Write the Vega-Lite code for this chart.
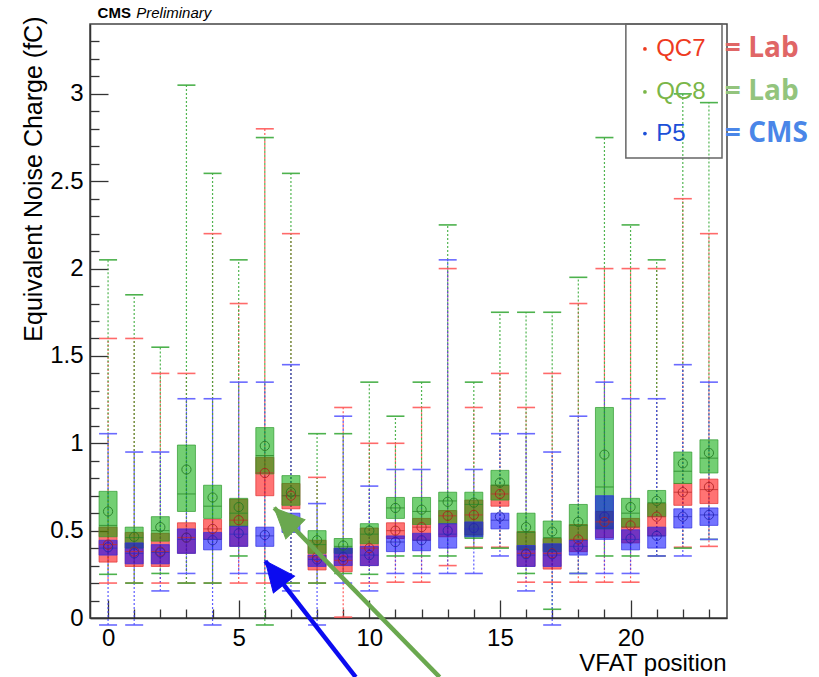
{
  "$schema": "https://vega.github.io/schema/vega-lite/v6.json",
  "width": 637,
  "height": 594,
  "autosize": {"type": "none"},
  "padding": {"left": 90, "top": 24, "right": 92, "bottom": 59},
  "background": "white",
  "config": {
    "view": {"stroke": "#444", "strokeWidth": 1.5},
    "font": "Liberation Sans"
  },
  "datasets": {
    "boxes": [
      {"pos":0,"ser":"QC7","lo":0.20,"q1":0.32,"med":0.42,"q3":0.52,"hi":1.60,"mean":0.42},
      {"pos":1,"ser":"QC7","lo":0.20,"q1":0.295,"med":0.38,"q3":0.49,"hi":1.60,"mean":0.38},
      {"pos":2,"ser":"QC7","lo":0.20,"q1":0.295,"med":0.38,"q3":0.485,"hi":1.40,"mean":0.38},
      {"pos":3,"ser":"QC7","lo":0.20,"q1":0.37,"med":0.46,"q3":0.545,"hi":1.40,"mean":0.46},
      {"pos":4,"ser":"QC7","lo":0.20,"q1":0.45,"med":0.51,"q3":0.565,"hi":2.20,"mean":0.51},
      {"pos":5,"ser":"QC7","lo":0.20,"q1":0.41,"med":0.56,"q3":0.68,"hi":1.80,"mean":0.56},
      {"pos":6,"ser":"QC7","lo":0.20,"q1":0.70,"med":0.83,"q3":0.92,"hi":2.80,"mean":0.83},
      {"pos":7,"ser":"QC7","lo":0.20,"q1":0.625,"med":0.70,"q3":0.77,"hi":2.20,"mean":0.70},
      {"pos":8,"ser":"QC7","lo":0.20,"q1":0.275,"med":0.35,"q3":0.445,"hi":0.805,"mean":0.35},
      {"pos":9,"ser":"QC7","lo":0.005,"q1":0.265,"med":0.33,"q3":0.40,"hi":1.205,"mean":0.33},
      {"pos":10,"ser":"QC7","lo":0.20,"q1":0.30,"med":0.40,"q3":0.515,"hi":1.00,"mean":0.40},
      {"pos":11,"ser":"QC7","lo":0.205,"q1":0.455,"med":0.50,"q3":0.545,"hi":1.00,"mean":0.50},
      {"pos":12,"ser":"QC7","lo":0.205,"q1":0.445,"med":0.52,"q3":0.57,"hi":1.205,"mean":0.52},
      {"pos":13,"ser":"QC7","lo":0.30,"q1":0.465,"med":0.585,"q3":0.615,"hi":2.00,"mean":0.585},
      {"pos":14,"ser":"QC7","lo":0.405,"q1":0.475,"med":0.59,"q3":0.675,"hi":1.205,"mean":0.59},
      {"pos":15,"ser":"QC7","lo":0.405,"q1":0.64,"med":0.71,"q3":0.76,"hi":1.40,"mean":0.71},
      {"pos":16,"ser":"QC7","lo":0.205,"q1":0.295,"med":0.37,"q3":0.495,"hi":1.205,"mean":0.37},
      {"pos":17,"ser":"QC7","lo":0.205,"q1":0.28,"med":0.37,"q3":0.455,"hi":1.40,"mean":0.37},
      {"pos":18,"ser":"QC7","lo":0.205,"q1":0.38,"med":0.45,"q3":0.535,"hi":1.80,"mean":0.45},
      {"pos":19,"ser":"QC7","lo":0.205,"q1":0.46,"med":0.55,"q3":0.61,"hi":2.00,"mean":0.55},
      {"pos":20,"ser":"QC7","lo":0.205,"q1":0.43,"med":0.52,"q3":0.57,"hi":2.00,"mean":0.53},
      {"pos":21,"ser":"QC7","lo":0.355,"q1":0.47,"med":0.58,"q3":0.655,"hi":2.00,"mean":0.58},
      {"pos":22,"ser":"QC7","lo":0.405,"q1":0.645,"med":0.72,"q3":0.77,"hi":2.40,"mean":0.72},
      {"pos":23,"ser":"QC7","lo":0.41,"q1":0.655,"med":0.735,"q3":0.795,"hi":2.20,"mean":0.75},
      {"pos":0,"ser":"QC8","lo":0.25,"q1":0.465,"med":0.53,"q3":0.725,"hi":2.05,"mean":0.61},
      {"pos":1,"ser":"QC8","lo":0.20,"q1":0.40,"med":0.46,"q3":0.52,"hi":1.85,"mean":0.465},
      {"pos":2,"ser":"QC8","lo":0.255,"q1":0.44,"med":0.50,"q3":0.58,"hi":1.55,"mean":0.52},
      {"pos":3,"ser":"QC8","lo":0.20,"q1":0.61,"med":0.71,"q3":0.99,"hi":3.05,"mean":0.85},
      {"pos":4,"ser":"QC8","lo":0.20,"q1":0.57,"med":0.64,"q3":0.76,"hi":2.545,"mean":0.69},
      {"pos":5,"ser":"QC8","lo":0.355,"q1":0.525,"med":0.60,"q3":0.685,"hi":2.05,"mean":0.635},
      {"pos":6,"ser":"QC8","lo":-0.04,"q1":0.825,"med":0.93,"q3":1.09,"hi":2.75,"mean":0.985},
      {"pos":7,"ser":"QC8","lo":0.20,"q1":0.645,"med":0.70,"q3":0.815,"hi":2.545,"mean":0.72},
      {"pos":8,"ser":"QC8","lo":0.20,"q1":0.37,"med":0.42,"q3":0.50,"hi":1.055,"mean":0.445},
      {"pos":9,"ser":"QC8","lo":0.255,"q1":0.37,"med":0.41,"q3":0.455,"hi":1.055,"mean":0.415},
      {"pos":10,"ser":"QC8","lo":0.25,"q1":0.425,"med":0.48,"q3":0.54,"hi":1.35,"mean":0.50},
      {"pos":11,"ser":"QC8","lo":0.355,"q1":0.57,"med":0.63,"q3":0.69,"hi":1.155,"mean":0.63},
      {"pos":12,"ser":"QC8","lo":0.355,"q1":0.535,"med":0.61,"q3":0.69,"hi":1.35,"mean":0.62},
      {"pos":13,"ser":"QC8","lo":0.355,"q1":0.54,"med":0.67,"q3":0.72,"hi":2.25,"mean":0.665},
      {"pos":14,"ser":"QC8","lo":0.40,"q1":0.455,"med":0.65,"q3":0.72,"hi":1.35,"mean":0.66},
      {"pos":15,"ser":"QC8","lo":0.40,"q1":0.675,"med":0.76,"q3":0.845,"hi":1.75,"mean":0.775},
      {"pos":16,"ser":"QC8","lo":0.255,"q1":0.39,"med":0.49,"q3":0.60,"hi":1.75,"mean":0.52},
      {"pos":17,"ser":"QC8","lo":0.05,"q1":0.38,"med":0.46,"q3":0.555,"hi":1.75,"mean":0.495},
      {"pos":18,"ser":"QC8","lo":0.255,"q1":0.445,"med":0.53,"q3":0.65,"hi":1.95,"mean":0.55},
      {"pos":19,"ser":"QC8","lo":0.355,"q1":0.51,"med":0.75,"q3":1.205,"hi":2.75,"mean":0.935},
      {"pos":20,"ser":"QC8","lo":0.355,"q1":0.52,"med":0.60,"q3":0.685,"hi":2.25,"mean":0.635},
      {"pos":21,"ser":"QC8","lo":0.355,"q1":0.58,"med":0.66,"q3":0.73,"hi":2.05,"mean":0.67},
      {"pos":22,"ser":"QC8","lo":0.40,"q1":0.77,"med":0.84,"q3":0.95,"hi":3.0,"mean":0.885},
      {"pos":23,"ser":"QC8","lo":0.45,"q1":0.83,"med":0.915,"q3":1.02,"hi":2.95,"mean":0.945},
      {"pos":0,"ser":"P5","lo":-0.04,"q1":0.36,"med":0.40,"q3":0.445,"hi":1.055,"mean":0.405},
      {"pos":1,"ser":"P5","lo":-0.04,"q1":0.31,"med":0.37,"q3":0.43,"hi":0.95,"mean":0.37},
      {"pos":2,"ser":"P5","lo":0.155,"q1":0.31,"med":0.375,"q3":0.42,"hi":0.95,"mean":0.375},
      {"pos":3,"ser":"P5","lo":0.255,"q1":0.37,"med":0.45,"q3":0.51,"hi":1.255,"mean":0.46},
      {"pos":4,"ser":"P5","lo":-0.04,"q1":0.39,"med":0.45,"q3":0.49,"hi":1.255,"mean":0.445},
      {"pos":5,"ser":"P5","lo":0.255,"q1":0.41,"med":0.48,"q3":0.525,"hi":1.35,"mean":0.485},
      {"pos":6,"ser":"P5","lo":0.255,"q1":0.41,"med":0.47,"q3":0.52,"hi":1.35,"mean":0.475},
      {"pos":7,"ser":"P5","lo":0.155,"q1":0.49,"med":0.55,"q3":0.60,"hi":1.45,"mean":0.55},
      {"pos":8,"ser":"P5","lo":-0.04,"q1":0.295,"med":0.335,"q3":0.36,"hi":0.655,"mean":0.335},
      {"pos":9,"ser":"P5","lo":0.20,"q1":0.30,"med":0.35,"q3":0.40,"hi":1.155,"mean":0.35},
      {"pos":10,"ser":"P5","lo":0.155,"q1":0.30,"med":0.36,"q3":0.41,"hi":0.755,"mean":0.36},
      {"pos":11,"ser":"P5","lo":0.255,"q1":0.38,"med":0.435,"q3":0.47,"hi":0.85,"mean":0.435},
      {"pos":12,"ser":"P5","lo":0.255,"q1":0.385,"med":0.445,"q3":0.485,"hi":0.85,"mean":0.445},
      {"pos":13,"ser":"P5","lo":0.255,"q1":0.40,"med":0.48,"q3":0.54,"hi":2.05,"mean":0.50},
      {"pos":14,"ser":"P5","lo":0.255,"q1":0.465,"med":0.51,"q3":0.55,"hi":0.85,"mean":0.515},
      {"pos":15,"ser":"P5","lo":0.355,"q1":0.51,"med":0.56,"q3":0.60,"hi":1.055,"mean":0.58},
      {"pos":16,"ser":"P5","lo":0.155,"q1":0.295,"med":0.36,"q3":0.415,"hi":1.055,"mean":0.365},
      {"pos":17,"ser":"P5","lo":-0.04,"q1":0.295,"med":0.36,"q3":0.425,"hi":0.95,"mean":0.365},
      {"pos":18,"ser":"P5","lo":0.255,"q1":0.36,"med":0.41,"q3":0.445,"hi":1.155,"mean":0.41},
      {"pos":19,"ser":"P5","lo":0.255,"q1":0.45,"med":0.52,"q3":0.70,"hi":1.35,"mean":0.58},
      {"pos":20,"ser":"P5","lo":0.255,"q1":0.39,"med":0.45,"q3":0.505,"hi":1.255,"mean":0.455},
      {"pos":21,"ser":"P5","lo":0.355,"q1":0.40,"med":0.47,"q3":0.52,"hi":1.255,"mean":0.47},
      {"pos":22,"ser":"P5","lo":0.355,"q1":0.515,"med":0.58,"q3":0.625,"hi":1.45,"mean":0.58},
      {"pos":23,"ser":"P5","lo":0.45,"q1":0.53,"med":0.59,"q3":0.63,"hi":1.35,"mean":0.59}
    ],
    "legendItems": [
      {"lab":"QC7","dx":20.55,"tx":20.98,"y":3.257,"note":"= Lab","nx":23.61},
      {"lab":"QC8","dx":20.55,"tx":20.98,"y":3.011,"note":"= Lab","nx":23.61},
      {"lab":"P5","dx":20.55,"tx":20.98,"y":2.773,"note":"= CMS","nx":23.61}
    ],
    "legendBox": [{"x1":19.82,"x2":23.5,"y1":2.633,"y2":3.4}],
    "arrows": [
      {"a":"P5","x":9.48,"y":-0.338,"xe":6.02,"ye":0.326},
      {"a":"QC8","x":12.69,"y":-0.338,"xe":6.36,"ye":0.63}
    ],
    "header": [
      {"t":"CMS","x":-0.4,"y":3.435},
      {"t":"Preliminary","x":1.08,"y":3.435}
    ]
  },
  "resolve": {"scale": {"color": "independent", "fill": "independent", "stroke": "independent"}},
  "layer": [
    {
      "data": {"name": "boxes"},
      "mark": {"type": "rule", "strokeDash": [2, 2], "strokeWidth": 1.2, "opacity": 0.85},
      "encoding": {
        "x": {"field": "pos", "type": "quantitative",
          "scale": {"domain": [-0.5, 23.5], "nice": false, "zero": false},
          "axis": {
            "title": "VFAT position",
            "values": [0,1,2,3,4,5,6,7,8,9,10,11,12,13,14,15,16,17,18,19,20,21,22,23],
            "tickCount": 200,
            "labelExpr": "datum.value % 5 === 0 ? datum.value + '' : ''",
            "tickSize": {"expr": "datum.value % 5 === 0 ? -18 : -9"},
            "tickColor": "#333", "tickWidth": 1.3,
            "domainColor": "#333", "domainWidth": 1.5,
            "grid": false,
            "labelFont": "Liberation Sans", "labelFontSize": 24, "labelColor": "#000",
            "labelPadding": 26, "labelFlush": false, "labelOverlap": false,
            "titleFont": "Liberation Sans", "titleFontSize": 24, "titleFontWeight": "normal", "titleColor": "#000",
            "titleX": 636, "titleY": 45, "titleAlign": "right", "titleBaseline": "middle", "titleAnchor": null
          }
        },
        "y": {"field": "lo", "type": "quantitative",
          "scale": {"domain": [0, 3.4], "nice": false, "zero": false},
          "axis": {
            "title": "Equivalent Noise Charge (fC)",
            "values": [0,0.1,0.2,0.3,0.4,0.5,0.6,0.7,0.8,0.9,1,1.1,1.2,1.3,1.4,1.5,1.6,1.7,1.8,1.9,2,2.1,2.2,2.3,2.4,2.5,2.6,2.7,2.8,2.9,3,3.1,3.2,3.3],
            "tickCount": 200,
            "labelExpr": "indexof([0,0.5,1,1.5,2,2.5,3], datum.value) >= 0 ? datum.value + '' : ''",
            "tickSize": {"expr": "indexof([0,0.5,1,1.5,2,2.5,3], datum.value) >= 0 ? -18 : -9"},
            "tickColor": "#333", "tickWidth": 1.3,
            "domainColor": "#333", "domainWidth": 1.5,
            "grid": false,
            "labelFont": "Liberation Sans", "labelFontSize": 24, "labelColor": "#000",
            "labelPadding": 25, "labelFlush": false, "labelOverlap": false,
            "titleFont": "Liberation Sans", "titleFontSize": 25, "titleFontWeight": "normal", "titleColor": "#000",
            "titleAngle": 270, "titleX": -57, "titleY": -8, "titleAlign": "right", "titleBaseline": "middle", "titleAnchor": null
          }
        },
        "y2": {"field": "hi"},
        "color": {"field": "ser", "type": "nominal",
          "scale": {"domain": ["QC7", "QC8", "P5"], "range": ["#ff4040", "#33a833", "#4040ff"]},
          "legend": null}
      }
    },
    {
      "data": {"name": "boxes"},
      "mark": {"type": "point", "shape": "M-1,0L1,0", "size": 324, "strokeWidth": 1.6, "filled": false, "opacity": 0.9},
      "encoding": {
        "x": {"field": "pos", "type": "quantitative"},
        "y": {"field": "lo", "type": "quantitative"},
        "color": {"field": "ser", "type": "nominal",
          "scale": {"domain": ["QC7", "QC8", "P5"], "range": ["#ff5a5a", "#3aaa3a", "#5a5aff"]},
          "legend": null}
      }
    },
    {
      "data": {"name": "boxes"},
      "mark": {"type": "point", "shape": "M-1,0L1,0", "size": 324, "strokeWidth": 1.6, "filled": false, "opacity": 0.9},
      "encoding": {
        "x": {"field": "pos", "type": "quantitative"},
        "y": {"field": "hi", "type": "quantitative"},
        "color": {"field": "ser", "type": "nominal",
          "scale": {"domain": ["QC7", "QC8", "P5"], "range": ["#ff5a5a", "#3aaa3a", "#5a5aff"]},
          "legend": null}
      }
    },
    {
      "data": {"name": "boxes"},
      "mark": {"type": "bar", "size": 18, "fillOpacity": 0.55, "strokeWidth": 1, "strokeOpacity": 0.7, "orient": "vertical"},
      "encoding": {
        "x": {"field": "pos", "type": "quantitative"},
        "y": {"field": "q1", "type": "quantitative"},
        "y2": {"field": "q3"},
        "fill": {"field": "ser", "type": "nominal",
          "scale": {"domain": ["QC7", "QC8", "P5"], "range": ["#ff0000", "#00a800", "#0000ff"]},
          "legend": null},
        "stroke": {"field": "ser", "type": "nominal",
          "scale": {"domain": ["QC7", "QC8", "P5"], "range": ["#e03030", "#2e9a2e", "#3030e0"]},
          "legend": null}
      }
    },
    {
      "data": {"name": "boxes"},
      "mark": {"type": "point", "shape": "M-1,0L1,0", "size": 324, "strokeWidth": 1, "filled": false, "opacity": 0.8},
      "encoding": {
        "x": {"field": "pos", "type": "quantitative"},
        "y": {"field": "med", "type": "quantitative"},
        "stroke": {"field": "ser", "type": "nominal",
          "scale": {"domain": ["QC7", "QC8", "P5"], "range": ["#c03030", "#2a8a2a", "#3030c0"]},
          "legend": null}
      }
    },
    {
      "data": {"name": "boxes"},
      "mark": {"type": "point", "shape": "circle", "size": 85, "strokeWidth": 1, "filled": false, "opacity": 0.85},
      "encoding": {
        "x": {"field": "pos", "type": "quantitative"},
        "y": {"field": "mean", "type": "quantitative"},
        "stroke": {"field": "ser", "type": "nominal",
          "scale": {"domain": ["QC7", "QC8", "P5"], "range": ["#b02020", "#237a23", "#2525b0"]},
          "legend": null}
      }
    },
    {
      "data": {"name": "legendBox"},
      "mark": {"type": "rect", "fill": null, "stroke": "#666", "strokeWidth": 1.5},
      "encoding": {
        "x": {"field": "x1", "type": "quantitative"},
        "x2": {"field": "x2"},
        "y": {"field": "y1", "type": "quantitative"},
        "y2": {"field": "y2"}
      }
    },
    {
      "data": {"name": "legendItems"},
      "mark": {"type": "point", "shape": "circle", "size": 14, "filled": true, "opacity": 1},
      "encoding": {
        "x": {"field": "dx", "type": "quantitative"},
        "y": {"field": "y", "type": "quantitative"},
        "color": {"field": "lab", "type": "nominal",
          "scale": {"domain": ["QC7", "QC8", "P5"], "range": ["#ee3b1f", "#7ab648", "#1c4fd8"]},
          "legend": null}
      }
    },
    {
      "data": {"name": "legendItems"},
      "mark": {"type": "text", "align": "left", "baseline": "middle", "font": "Liberation Sans", "fontSize": 24},
      "encoding": {
        "x": {"field": "tx", "type": "quantitative"},
        "y": {"field": "y", "type": "quantitative"},
        "text": {"field": "lab"},
        "color": {"field": "lab", "type": "nominal",
          "scale": {"domain": ["QC7", "QC8", "P5"], "range": ["#ee3b1f", "#7ab648", "#1c4fd8"]},
          "legend": null}
      }
    },
    {
      "data": {"name": "legendItems"},
      "mark": {"type": "text", "align": "left", "baseline": "middle", "font": "Open Sans", "fontWeight": "bold", "fontSize": 28},
      "encoding": {
        "x": {"field": "nx", "type": "quantitative"},
        "y": {"field": "y", "type": "quantitative"},
        "text": {"field": "note"},
        "color": {"field": "lab", "type": "nominal",
          "scale": {"domain": ["QC7", "QC8", "P5"], "range": ["#e06666", "#93c47d", "#4a86e8"]},
          "legend": null}
      }
    },
    {
      "data": {"name": "header"},
      "transform": [{"filter": "datum.t === 'CMS'"}],
      "mark": {"type": "text", "align": "left", "baseline": "alphabetic", "font": "Liberation Sans", "fontWeight": "bold", "fontSize": 15, "color": "#000"},
      "encoding": {
        "x": {"field": "x", "type": "quantitative"},
        "y": {"field": "y", "type": "quantitative"},
        "text": {"field": "t"}
      }
    },
    {
      "data": {"name": "header"},
      "transform": [{"filter": "datum.t === 'Preliminary'"}],
      "mark": {"type": "text", "align": "left", "baseline": "alphabetic", "font": "Liberation Sans", "fontStyle": "italic", "fontSize": 15, "color": "#000"},
      "encoding": {
        "x": {"field": "x", "type": "quantitative"},
        "y": {"field": "y", "type": "quantitative"},
        "text": {"field": "t"}
      }
    },
    {
      "data": {"name": "arrows"},
      "mark": {"type": "rule", "strokeWidth": 4.5},
      "encoding": {
        "x": {"field": "x", "type": "quantitative"},
        "y": {"field": "y", "type": "quantitative"},
        "x2": {"field": "xe"},
        "y2": {"field": "ye"},
        "color": {"field": "a", "type": "nominal",
          "scale": {"domain": ["P5", "QC8"], "range": ["#0b0bf0", "#6aa84f"]},
          "legend": null}
      }
    },
    {
      "data": {"name": "arrows"},
      "transform": [{"filter": "datum.a === 'P5'"}],
      "mark": {"type": "point", "shape": "M 0 0 L -0.45 1 L 0.45 1 Z", "size": 3600, "filled": true, "fill": "#0b0bf0", "stroke": "#0b0bf0", "strokeWidth": 1, "fillOpacity": 1, "opacity": 1, "angle": 321.6},
      "encoding": {
        "x": {"field": "xe", "type": "quantitative"},
        "y": {"field": "ye", "type": "quantitative"}
      }
    },
    {
      "data": {"name": "arrows"},
      "transform": [{"filter": "datum.a === 'QC8'"}],
      "mark": {"type": "point", "shape": "M 0 0 L -0.45 1 L 0.45 1 Z", "size": 3600, "filled": true, "fill": "#6aa84f", "stroke": "#6aa84f", "strokeWidth": 1, "fillOpacity": 1, "opacity": 1, "angle": 315.2},
      "encoding": {
        "x": {"field": "xe", "type": "quantitative"},
        "y": {"field": "ye", "type": "quantitative"}
      }
    }
  ]
}
